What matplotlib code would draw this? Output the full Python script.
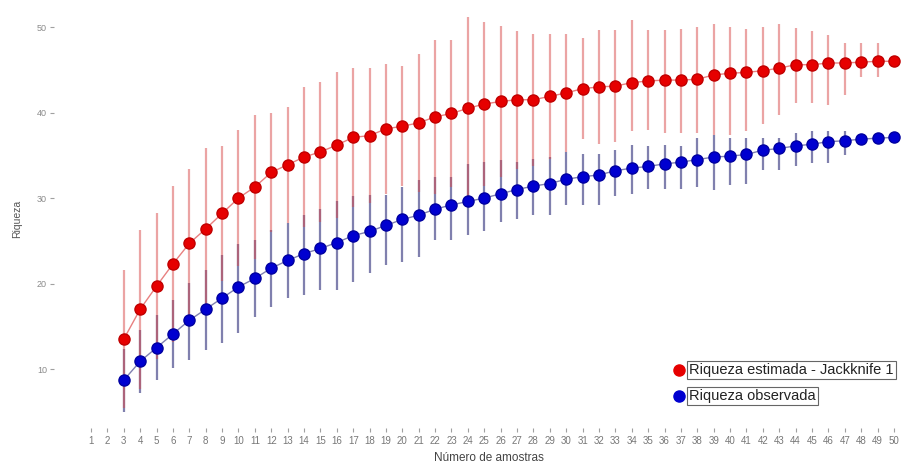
import numpy as np
import matplotlib
matplotlib.use("Agg")
from matplotlib import pyplot as plt

plt.rcParams['font.family'] = ['Liberation Sans', 'DejaVu Sans']

# número de amostras (eixo x)
amostras = list(range(3, 51))
tick_labels = [str(i) for i in range(1, 51)]

# riqueza estimada - Jackknife 1 (média, desvio acima, desvio abaixo)
jack_media = [13.5, 17.0, 19.7, 22.3, 24.7, 26.4, 28.2, 30.0, 31.3, 33.0,
              33.9, 34.8, 35.4, 36.2, 37.1, 37.3, 38.1, 38.4, 38.8, 39.5,
              39.9, 40.5, 41.0, 41.3, 41.5, 41.5, 41.9, 42.3, 42.8, 43.0,
              43.1, 43.5, 43.7, 43.8, 43.8, 43.9, 44.4, 44.6, 44.7, 44.9,
              45.2, 45.6, 45.6, 45.8, 45.8, 45.9, 46.0, 46.0]
jack_sup = [8.1, 9.3, 8.5, 9.1, 8.7, 9.4, 7.9, 8.0, 8.4, 7.0,
            6.8, 8.2, 8.2, 8.5, 8.1, 7.9, 7.6, 7.0, 8.1, 9.0,
            8.6, 10.7, 9.6, 8.8, 8.1, 7.7, 7.3, 6.9, 5.9, 6.7,
            6.6, 7.3, 6.0, 5.9, 6.0, 6.1, 6.0, 5.4, 5.1, 5.1,
            5.2, 4.3, 3.9, 3.3, 2.3, 2.2, 2.1, 0.6]
jack_inf = [8.1, 9.3, 8.5, 9.1, 8.7, 9.4, 7.9, 8.0, 8.4, 7.0,
            6.8, 8.2, 8.2, 8.5, 8.1, 7.9, 7.6, 7.0, 8.1, 9.0,
            8.6, 10.7, 9.6, 8.8, 8.1, 7.7, 7.3, 6.9, 5.9, 6.7,
            6.6, 5.7, 5.7, 6.2, 6.2, 6.3, 7.0, 7.2, 6.9, 6.2,
            5.5, 4.5, 4.5, 4.9, 3.8, 1.7, 1.8, 0.5]

# riqueza observada
obs_media = [8.7, 10.9, 12.5, 14.1, 15.7, 17.0, 18.3, 19.6, 20.6, 21.8,
             22.7, 23.5, 24.1, 24.8, 25.6, 26.1, 26.8, 27.5, 28.0, 28.7,
             29.2, 29.6, 30.0, 30.5, 31.0, 31.4, 31.7, 32.2, 32.5, 32.7,
             33.2, 33.5, 33.7, 34.0, 34.2, 34.5, 34.8, 34.9, 35.1, 35.6,
             35.8, 36.1, 36.3, 36.6, 36.7, 36.9, 37.0, 37.1]
obs_sup = [3.7, 3.7, 3.8, 4.0, 4.4, 4.6, 5.0, 5.0, 4.5, 4.5,
           4.4, 4.5, 4.6, 4.8, 4.6, 4.2, 3.6, 3.8, 4.1, 3.8,
           3.3, 4.4, 4.2, 3.9, 3.2, 3.2, 3.1, 3.2, 2.7, 2.5,
           2.4, 2.7, 2.4, 2.2, 1.9, 2.5, 2.6, 2.1, 1.9, 1.4,
           1.2, 1.5, 1.5, 1.3, 1.2, 0.4, 0.2, 0.1]
obs_inf = [3.7, 3.7, 3.8, 4.0, 4.6, 4.8, 5.3, 5.4, 4.5, 4.5,
           4.4, 4.8, 4.9, 5.6, 5.4, 4.9, 4.6, 5.0, 4.9, 3.6,
           4.1, 3.9, 3.9, 3.3, 3.4, 3.4, 3.7, 3.0, 3.3, 3.5,
           3.0, 3.0, 2.6, 2.9, 3.1, 3.2, 3.9, 3.4, 3.4, 2.3,
           2.5, 2.4, 2.2, 2.5, 1.7, 0.4, 0.2, 0.1]

fig = plt.figure(figsize=(9.07, 4.67), dpi=100)
ax = fig.add_axes([54 / 907, 39 / 467, 853 / 907, 418 / 467])

# barras de erro
ax.errorbar(amostras, obs_media, yerr=[obs_inf, obs_sup], fmt='none',
            ecolor='#4b4b8c', alpha=0.7, elinewidth=1.6, zorder=2)
ax.errorbar(amostras, jack_media, yerr=[jack_inf, jack_sup], fmt='none',
            ecolor='#d84a4a', alpha=0.5, elinewidth=1.6, zorder=2)

# linhas e pontos
ax.plot(amostras, jack_media, color='#e88080', lw=1, zorder=3)
ax.plot(amostras, obs_media, color='#8080b0', lw=1, zorder=3)
ax.plot(amostras, jack_media, 'o', color='#e60000', mec='#c00000',
        ms=8, zorder=4)
ax.plot(amostras, obs_media, 'o', color='#0000d0', mec='#0000a0',
        ms=8, zorder=4)

ax.set_xlim(-1.26, 50.8)
ax.set_ylim(3.1, 52.0)
ax.set_xticks(range(1, 51))
ax.set_xticklabels(tick_labels)
ax.set_yticks([10, 20, 30, 40, 50])
for s in ax.spines.values():
    s.set_visible(False)
ax.tick_params(axis='x', colors='#a0a0a0', labelsize=7, length=3, width=0.8,
               pad=3, labelcolor='#777777')
ax.tick_params(axis='y', colors='#a0a0a0', labelsize=6.5, length=3, width=0.8,
               pad=2, labelcolor='#8a8a8a')

ax.set_xlabel('Número de amostras', fontsize=8.5, color='#444444')
ax.xaxis.set_label_coords(0.51, -0.058)
ax.set_ylabel('Riqueza', fontsize=7.5, color='#555555')
ax.yaxis.set_label_coords(-0.037, 0.5)

# legenda
leg = [('Riqueza estimada - Jackknife 1', '#e60000', 0.139),
       ('Riqueza observada', '#0000d0', 0.077)]
for texto, cor, yy in leg:
    ax.plot(0.733, yy, 'o', color=cor, ms=8, transform=ax.transAxes,
            clip_on=False, zorder=5)
    ax.text(0.745, yy, texto, transform=ax.transAxes, fontsize=10.5,
            color='#222222', va='center', ha='left', zorder=5,
            bbox=dict(boxstyle='square,pad=0.15', fc='white', ec='#666666',
                      lw=0.8))

fig.savefig('out.png', dpi=100)
